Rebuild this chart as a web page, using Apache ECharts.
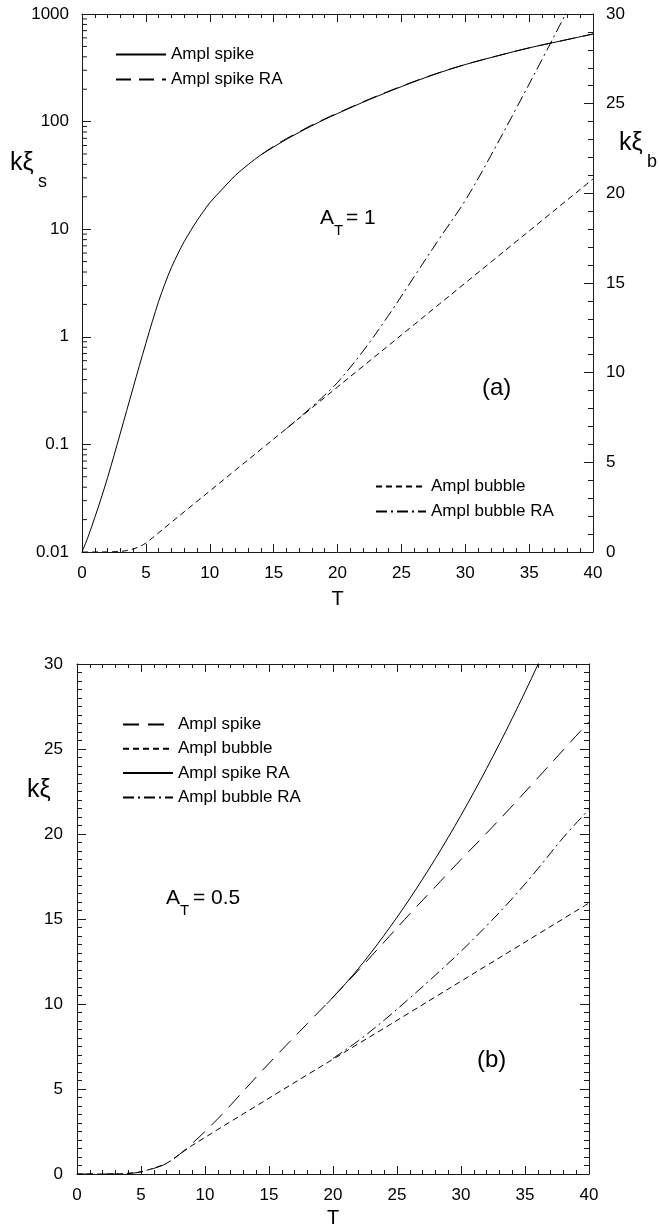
<!DOCTYPE html>
<html><head><meta charset="utf-8">
<script src="https://cdn.jsdelivr.net/npm/echarts@6/dist/echarts.min.js"></script>
<style>html,body{margin:0;padding:0;background:#fff}#c{width:659px;height:1226px}</style>
</head><body><div id="c"></div>
<script>
// ---------- Panel (a): A_T = 1 ----------
const aT = [0,0.5,1,1.5,2,2.5,3,3.5,4,4.5,5,5.5,6,6.5,7,7.5,8,8.5,9,9.5,10,11,12,13,14,15,16,17,18,19,20,22.5,25,27.5,30,32.5,35,37.5,40];
const aSpike   = [0.01,0.0141,0.0209,0.0316,0.049,0.0785,0.127,0.2065,0.335,0.543,0.871,1.38,2.138,3.126,4.416,5.89,7.67,9.66,12.0,14.6,17.6,23.7,31.6,39.8,49.0,58.1,68.4,79.4,91.6,104.7,118.9,160.3,211.3,272.3,338.8,407.4,484.2,562.3,651.6];
const aSpikeRAT = [14,15,16,17,18,19,20,22.5,25,27.5,30,32.5,35,37.5,40];
const aSpikeRA  = [49.0,59.0,69.5,80.5,93.0,106.0,120.0,162.0,213.0,273.5,339.5,408.0,484.5,562.3,651.6];
const aBubbleT = [0,1,2,3,3.5,4,4.5,5,5.5,6,7,8,9,10,12,14,16,18,20,22,24,26,28,30,32,34,36,38,40];
const aBubble  = [0,0,0.005,0.03,0.08,0.17,0.3,0.5,0.78,1.07,1.66,2.24,2.82,3.4,4.56,5.72,6.88,8.04,9.2,10.36,11.52,12.68,13.84,15.0,16.16,17.32,18.48,19.64,20.8];
const aBubbleRAT = [16,17,18,19,20,22,24,26,28,30,32,34,36,38,40];
const aBubbleRA  = [6.88,7.48,8.1,8.75,9.45,11.2,13.2,15.35,17.5,19.6,22.1,24.75,27.45,30.2,33.0];
const logMinorTicks = [0.02,0.03,0.04,0.05,0.06,0.07,0.08,0.09,0.2,0.3,0.4,0.5,0.6,0.7,0.8,0.9,2,3,4,5,6,7,8,9,20,30,40,50,60,70,80,90,200,300,400,500,600,700,800,900];

// ---------- Panel (b): A_T = 0.5 ----------
const bSpikeT = [0,2,3,4,5,6,7,8,9,10,11,12,14,16,18,20,22,24,26,28,30,32,34,36,38,40];
const bSpike  = [0,0,0.005,0.03,0.12,0.33,0.62,1.15,1.8,2.5,3.25,4.05,5.7,7.3,8.85,10.4,12.0,13.65,15.3,16.9,18.5,20.05,21.65,23.3,24.95,26.6];
const bSpikeRAT = [19.5,20,21,22,23,24,25,26,27,28,29,30,31,32,33,34,35,36,37];
const bSpikeRA  = [10.0,10.4,11.22,12.1,13.05,14.05,15.1,16.2,17.35,18.55,19.8,21.1,22.45,23.85,25.3,26.8,28.35,29.95,31.6];
const bBubbleT = [0,2,3,4,5,6,7,8,9,10,11,12,14,16,18,20,22,24,26,28,30,32,34,36,38,40];
const bBubble  = [0,0,0.005,0.04,0.13,0.35,0.63,1.15,1.68,2.15,2.62,3.08,4.0,4.92,5.84,6.75,7.67,8.58,9.5,10.42,11.34,12.26,13.18,14.1,15.02,15.94];
const bBubbleRAT = [20,22,24,26,28,30,32,34,36,38,40];
const bBubbleRA  = [6.8,7.85,9.05,10.35,11.7,13.1,14.6,16.2,17.95,19.8,21.45];

const FONT = '"Liberation Sans", Arial, sans-serif';
const zip = (xs, ys) => xs.map((x, i) => [x, ys[i]]);
const AX = '#1a1a1a';

function xAx(grid, pos, labels, name, nameGap) {
  return {
    type: 'value', gridIndex: grid, position: pos, min: 0, max: 40, interval: 5,
    axisLine: {show: true, onZero: false, lineStyle: {color: AX, width: 1}},
    axisTick: {show: true, inside: true, length: 8, lineStyle: {color: AX}},
    minorTick: {show: true, splitNumber: 5, length: 4, lineStyle: {color: AX}},
    splitLine: {show: false},
    axisLabel: {show: labels, fontFamily: FONT, fontSize: 17, color: '#000', margin: 13},
    name: name || '', nameLocation: 'middle', nameGap: nameGap || 0,
    nameTextStyle: {fontFamily: FONT, fontSize: 20, color: '#000'}
  };
}
function yLin(grid, pos, labels, minorSplit, margin) {
  return {
    type: 'value', gridIndex: grid, position: pos, min: 0, max: 30, interval: 5,
    axisLine: {show: true, onZero: false, lineStyle: {color: AX, width: 1}},
    axisTick: {show: true, inside: true, length: 9, lineStyle: {color: AX}},
    minorTick: {show: true, splitNumber: minorSplit, length: 5, lineStyle: {color: AX}},
    splitLine: {show: false},
    axisLabel: {show: labels, fontFamily: FONT, fontSize: 17, color: '#000', margin: margin}
  };
}
function line(name, xi, yi, xs, ys, dash) {
  return {
    type: 'line', name: name, xAxisIndex: xi, yAxisIndex: yi,
    data: zip(xs, ys), symbol: 'none', smooth: 0.35,
    lineStyle: {color: '#000', width: 1, type: dash || 'solid'},
    itemStyle: {color: '#000'}, emphasis: {disabled: true}, animation: false
  };
}
function txt(x, y, s, size, align) {
  return {type: 'text', x: x, y: y, silent: true,
    style: {text: s, font: size + 'px ' + FONT, fill: '#000', verticalAlign: 'middle', align: align || 'left'}};
}
const legendBase = {orient: 'vertical', itemWidth: 50, itemHeight: 14, selectedMode: false,
  itemStyle: {opacity: 0},
  textStyle: {fontFamily: FONT, fontSize: 17, color: '#000'}};

const option = {
  animation: false,
  backgroundColor: '#fff',
  grid: [
    {left: 82, top: 14, width: 511, height: 538, containLabel: false, outerBoundsMode: 'none'},
    {left: 77, top: 664, width: 512, height: 510, containLabel: false, outerBoundsMode: 'none'}
  ],
  xAxis: [
    xAx(0, 'bottom', true, 'T', 37),
    xAx(0, 'top', false),
    xAx(1, 'bottom', true, 'T', 34),
    xAx(1, 'top', false)
  ],
  yAxis: [
    {
      type: 'log', logBase: 10, gridIndex: 0, position: 'left', min: 0.01, max: 1000,
      axisLine: {show: true, onZero: false, lineStyle: {color: AX, width: 1}},
      axisTick: {show: true, inside: true, length: 9, lineStyle: {color: AX}},
      splitLine: {show: false},
      axisLabel: {fontFamily: FONT, fontSize: 17, color: '#000', margin: 13,
        formatter: v => String(+(+v).toPrecision(2))}
    },
    yLin(0, 'right', true, 5, 13),
    yLin(1, 'left', true, 10, 14),
    yLin(1, 'right', false, 10, 14)
  ],
  legend: [
    Object.assign({}, legendBase, {left: 110, top: 41, itemGap: 8, data: ['Ampl spike', 'Ampl spike RA']}),
    Object.assign({}, legendBase, {left: 370, top: 473, itemGap: 8, data: ['Ampl bubble', 'Ampl bubble RA']}),
    Object.assign({}, legendBase, {left: 117, top: 711, itemGap: 7.3, data: ['Ampl spike ', 'Ampl bubble ', 'Ampl spike RA ', 'Ampl bubble RA ']})
  ],
  series: [
    line('Ampl spike', 0, 0, aT, aSpike, 'solid'),
    line('Ampl spike RA', 0, 0, aSpikeRAT, aSpikeRA, [15, 8]),
    line('Ampl bubble', 0, 1, aBubbleT, aBubble, [6, 4]),
    line('Ampl bubble RA', 0, 1, aBubbleRAT, aBubbleRA, [11, 4, 2, 4]),
    {
      type: 'custom', xAxisIndex: 0, yAxisIndex: 0, silent: true, clip: false,
      data: logMinorTicks.map(v => [0, v]),
      renderItem: (params, api) => {
        const p = api.coord([0, api.value(1)]);
        return {type: 'line', shape: {x1: p[0], y1: p[1], x2: p[0] + 5, y2: p[1]},
          style: {stroke: AX, lineWidth: 1}};
      }
    },
    line('Ampl spike ', 2, 2, bSpikeT, bSpike, [16, 9]),
    line('Ampl bubble ', 2, 2, bBubbleT, bBubble, [6, 4]),
    line('Ampl spike RA ', 2, 2, bSpikeRAT, bSpikeRA, 'solid'),
    line('Ampl bubble RA ', 2, 2, bBubbleRAT, bBubbleRA, [11, 4, 2, 4])
  ],
  graphic: [
    txt(10, 163, 'kξ', 25), txt(38, 182, 's', 18),
    txt(619, 143, 'kξ', 25), txt(647, 162, 'b', 18),
    txt(27, 790, 'kξ', 25),
    txt(320, 218, 'A', 21), txt(334, 231, 'T', 15), txt(346, 218, '= 1', 21),
    txt(166, 898, 'A', 21), txt(180, 911, 'T', 15), txt(193, 898, '= 0.5', 21),
    txt(482, 388, '(a)', 24),
    txt(477, 1060, '(b)', 24)
  ]
};
const chart = echarts.init(document.getElementById('c'), null, {renderer: 'canvas'});
chart.setOption(option);
</script></body></html>
